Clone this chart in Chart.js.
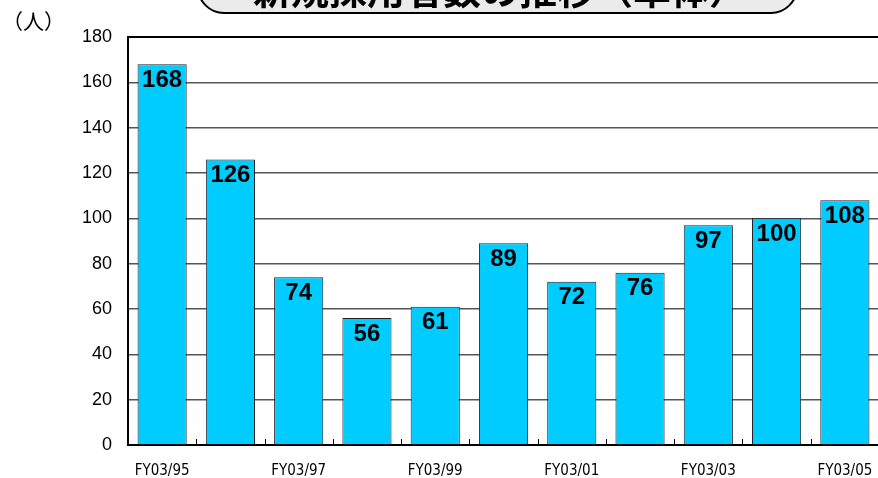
<!DOCTYPE html>
<html>
<head>
<meta charset="utf-8">
<script src="https://cdn.jsdelivr.net/npm/chart.js@4.4.1/dist/chart.umd.min.js"></script>
<style>
  html, body { margin: 0; padding: 0; background: #fff; overflow: hidden; }
  #wrap { position: relative; width: 882px; height: 478px; }
</style>
</head>
<body>
<div id="wrap"><canvas id="myChart" width="882" height="478"></canvas></div>
<script>
// Données
const years = ['FY03/95', 'FY03/96', 'FY03/97', 'FY03/98', 'FY03/99', 'FY03/00',
               'FY03/01', 'FY03/02', 'FY03/03', 'FY03/04', 'FY03/05'];
const recruits = [168, 126, 74, 56, 61, 89, 72, 76, 97, 100, 108];
const yTicks = [0, 20, 40, 60, 80, 100, 120, 140, 160, 180];
const titleText = '新規採用者数の推移（単体）';
const unitText = '（人）';

// Titre encadré (coupé en haut) + unité
const titlePlugin = {
    id: 'titleBox',
    afterDraw(chart) {
        const ctx = chart.ctx;
        ctx.save();
        const x0 = 198, x1 = 797, y0 = -40, y1 = 13, r = 26;
        ctx.beginPath();
        ctx.moveTo(x0 + r, y0);
        ctx.lineTo(x1 - r, y0);
        ctx.arcTo(x1, y0, x1, y0 + r, r);
        ctx.lineTo(x1, y1 - r);
        ctx.arcTo(x1, y1, x1 - r, y1, r);
        ctx.lineTo(x0 + r, y1);
        ctx.arcTo(x0, y1, x0, y1 - r, r);
        ctx.lineTo(x0, y0 + r);
        ctx.closePath();
        ctx.fillStyle = '#ebebeb';
        ctx.fill();
        ctx.lineWidth = 2;
        ctx.strokeStyle = '#000';
        ctx.stroke();
        ctx.fillStyle = '#000';
        ctx.font = 'bold 38px "Noto Sans CJK JP"';
        ctx.textAlign = 'center';
        ctx.textBaseline = 'alphabetic';
        ctx.fillText(titleText, 500, 4);

        ctx.font = '21px "Noto Sans CJK JP"';
        ctx.textAlign = 'left';
        ctx.textBaseline = 'middle';
        ctx.fillText(unitText, 2, 21);
        ctx.restore();
    }
};

// Étiquettes de valeur dans le haut des barres + petites graduations en bas
const labelPlugin = {
    id: 'barLabels',
    afterDatasetsDraw(chart) {
        const ctx = chart.ctx;
        const meta = chart.getDatasetMeta(0);
        const xs = chart.scales.x;
        const area = chart.chartArea;
        ctx.save();
        ctx.fillStyle = '#000';
        ctx.font = 'bold 24px "Liberation Sans", Arial';
        ctx.textAlign = 'center';
        ctx.textBaseline = 'middle';
        meta.data.forEach((bar, i) => {
            ctx.fillText(recruits[i], bar.x, bar.y + 16);
        });
        // graduations entre catégories
        const step = (xs.getPixelForValue(1) - xs.getPixelForValue(0));
        ctx.strokeStyle = '#000';
        ctx.lineWidth = 1;
        for (let i = 1; i < years.length; i++) {
            const x = Math.round(xs.getPixelForValue(i) - step / 2) + 0.5;
            ctx.beginPath();
            ctx.moveTo(x, area.bottom);
            ctx.lineTo(x, area.bottom - 6);
            ctx.stroke();
        }
        ctx.restore();
    }
};

const ctx = document.getElementById('myChart').getContext('2d');
new Chart(ctx, {
    type: 'bar',
    data: {
        labels: years,
        datasets: [{
            data: recruits,
            backgroundColor: '#00ccff',
            borderColor: '#222222',
            borderWidth: 1,
            barPercentage: 0.72,
            categoryPercentage: 1.0
        }]
    },
    options: {
        responsive: false,
        animation: false,
        devicePixelRatio: 1,
        layout: { padding: { top: 37, left: 0, right: 3, bottom: 0 } },
        plugins: {
            legend: { display: false },
            tooltip: { enabled: false }
        },
        scales: {
            x: {
                grid: { display: false, drawTicks: false },
                border: { display: true, color: '#000', width: 2 },
                ticks: {
                    autoSkip: false,
                    maxRotation: 0,
                    padding: 17,
                    color: '#000',
                    font: { family: '"Liberation Sans Narrow", "DejaVu Sans Condensed", sans-serif', size: 15 },
                    callback: (v, i) => (i % 2 === 0 ? years[i] : '')
                },
                afterFit(scale) {
                    scale.height = 33;
                    scale.paddingLeft = 0;
                    scale.paddingRight = 0;
                }
            },
            y: {
                min: 0,
                max: 180,
                afterBuildTicks(scale) { scale.ticks = yTicks.map(v => ({ value: v })); },
                grid: {
                    color: (c) => (c.tick && c.tick.value === 180 ? '#000' : '#555'),
                    lineWidth: (c) => (c.tick && c.tick.value === 180 ? 2 : 1.5),
                    drawTicks: false
                },
                border: { display: true, color: '#000', width: 2 },
                ticks: {
                    padding: 16,
                    color: '#000',
                    font: { family: '"Liberation Sans", Arial', size: 18 }
                },
                afterFit(scale) {
                    scale.width = 128;
                    scale.paddingTop = 0;
                    scale.paddingBottom = 0;
                }
            }
        }
    },
    plugins: [titlePlugin, labelPlugin]
});
</script>
</body>
</html>
